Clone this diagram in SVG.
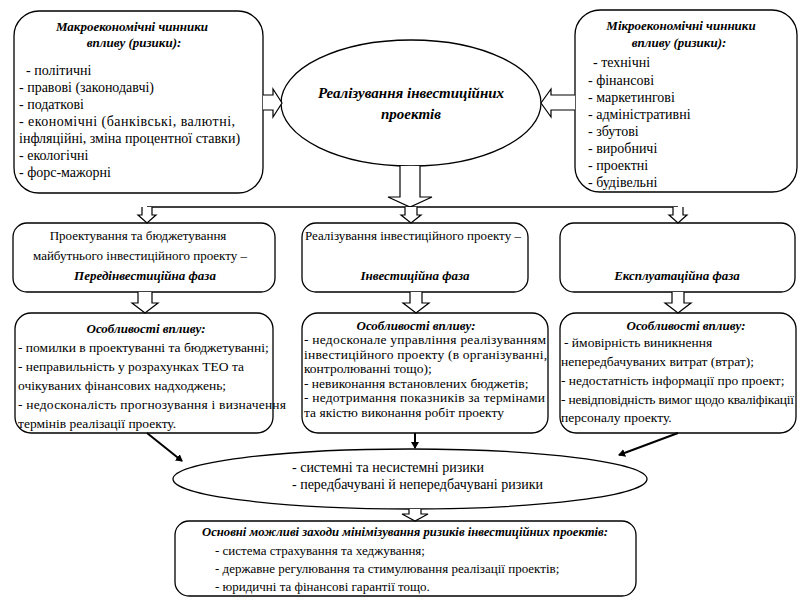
<svg xmlns="http://www.w3.org/2000/svg" width="800" height="600" viewBox="0 0 800 600" font-family="Liberation Serif, Times New Roman, serif">
<style>
  .box{fill:#fff;stroke:#000;stroke-width:1.3}
  .t{font-size:14px;fill:#000}
  .s{font-size:13px;fill:#000}
  .m{font-size:13.5px;fill:#000}
  .bi{font-size:13px;font-weight:bold;font-style:italic;fill:#000}
  .big{font-size:15px;font-weight:bold;font-style:italic;fill:#000}
  .hollow{fill:#fff;stroke:#000;stroke-width:1.2}
  .ln{fill:none;stroke:#000;stroke-width:1.3}
  .arr{fill:none;stroke:#000;stroke-width:2;marker-end:url(#ah)}
</style>
<defs>
  <marker id="ah" markerWidth="8" markerHeight="8" refX="6" refY="4" orient="auto" markerUnits="userSpaceOnUse">
    <path d="M0,0 L7,4 L0,8 Z" fill="#000"/>
  </marker>
</defs>
<rect width="800" height="600" fill="#fff"/>

<g id="macro">
  <rect class="box" x="14" y="11" width="249" height="182" rx="25"/>
  <text class="bi" x="132" y="31" text-anchor="middle">Макроекономічні чинники</text>
  <text class="bi" x="134" y="47" text-anchor="middle">впливу (ризики):</text>
  <text class="t" x="26" y="75">- політичні</text>
  <text class="t" x="19" y="92">- правові (законодавчі)</text>
  <text class="t" x="19" y="109">- податкові</text>
  <text class="t" x="19" y="126" textLength="216" lengthAdjust="spacing">- економічні (банківські, валютні,</text>
  <text class="t" x="19" y="143">інфляційні, зміна процентної ставки)</text>
  <text class="t" x="19" y="160">- екологічні</text>
  <text class="t" x="19" y="177">- форс-мажорні</text>
</g>

<g id="micro">
  <rect class="box" x="575" y="10" width="222" height="182" rx="25"/>
  <text class="bi" x="681" y="30" text-anchor="middle">Мікроекономічні чинники</text>
  <text class="bi" x="679" y="47" text-anchor="middle">впливу (ризики):</text>
  <text class="t" x="593" y="67">- технічні</text>
  <text class="t" x="588" y="85">- фінансові</text>
  <text class="t" x="588" y="102">- маркетингові</text>
  <text class="t" x="588" y="119">- адміністративні</text>
  <text class="t" x="588" y="136">- збутові</text>
  <text class="t" x="588" y="153">- виробничі</text>
  <text class="t" x="588" y="170">- проектні</text>
  <text class="t" x="588" y="187">- будівельні</text>
</g>

<g id="realization">
  <ellipse class="box" cx="411" cy="103" rx="130" ry="63"/>
  <text class="big" x="411" y="98" text-anchor="middle">Реалізування інвестиційних</text>
  <text class="big" x="411" y="119" text-anchor="middle">проектів</text>
</g>

<g id="phase1">
  <rect class="box" x="13" y="223" width="262" height="69" rx="14"/>
  <text class="s" x="138" y="240" text-anchor="middle">Проектування та бюджетування</text>
  <text class="s" x="140" y="260" text-anchor="middle">майбутнього інвестиційного проекту –</text>
  <text class="bi" x="145" y="280" text-anchor="middle">Передінвестиційна фаза</text>
</g>

<g id="phase2">
  <rect class="box" x="302" y="223" width="226" height="69" rx="14"/>
  <text class="s" x="305" y="240">Реалізування інвестиційного проекту –</text>
  <text class="bi" x="415" y="280" text-anchor="middle">Інвестиційна фаза</text>
</g>

<g id="phase3">
  <rect class="box" x="560" y="223" width="235" height="69" rx="14"/>
  <text class="bi" x="677" y="280" text-anchor="middle">Експлуатаційна фаза</text>
</g>

<g id="features1">
  <rect class="box" x="15" y="313" width="258" height="120" rx="16"/>
  <text class="bi" x="146" y="333" text-anchor="middle">Особливості впливу:</text>
  <text class="m" x="18" y="352">- помилки  в проектуванні та бюджетуванні;</text>
  <text class="m" x="18" y="371">- неправильність у розрахунках ТЕО та</text>
  <text class="m" x="18" y="390">очікуваних фінансових надходжень;</text>
  <text class="m" x="18" y="409" textLength="268" lengthAdjust="spacing">- недосконалість прогнозування і визначення</text>
  <text class="m" x="18" y="428">термінів реалізації проекту.</text>
</g>

<g id="features2">
  <rect class="box" x="302" y="313" width="246" height="120" rx="16"/>
  <text class="bi" x="416" y="330" text-anchor="middle">Особливості впливу:</text>
  <text class="m" x="304" y="344" textLength="242" lengthAdjust="spacing">- недосконале управління реалізуванням</text>
  <text class="m" x="304" y="359" textLength="243" lengthAdjust="spacing">інвестиційного проекту (в організуванні,</text>
  <text class="m" x="304" y="373">контролюванні тощо);</text>
  <text class="m" x="304" y="388">- невиконання встановлених бюджетів;</text>
  <text class="m" x="304" y="402" textLength="241" lengthAdjust="spacing">- недотримання показників за термінами</text>
  <text class="m" x="304" y="417">та якістю виконання робіт проекту</text>
</g>

<g id="features3">
  <rect class="box" x="560" y="313" width="236" height="120" rx="16"/>
  <text class="bi" x="686" y="330" text-anchor="middle">Особливості впливу:</text>
  <text class="m" x="564" y="347">- ймовірність виникнення</text>
  <text class="m" x="561" y="366">непередбачуваних витрат (втрат);</text>
  <text class="m" x="561" y="385">- недостатність інформації про проект;</text>
  <text class="m" x="561" y="404" textLength="233" lengthAdjust="spacing">- невідповідність вимог щодо кваліфікації</text>
  <text class="m" x="561" y="422">персоналу проекту.</text>
</g>

<g id="risks">
  <ellipse class="box" cx="410" cy="479" rx="237" ry="30"/>
  <text class="t" x="292" y="472">- системні та несистемні ризики</text>
  <text class="t" x="292" y="489">- передбачувані й непередбачувані ризики</text>
</g>

<g id="measures">
  <rect class="box" x="175" y="521" width="461" height="75" rx="14"/>
  <text class="bi" x="405" y="536" text-anchor="middle" style="font-size:12.7px">Основні можливі заходи мінімізування ризиків інвестиційних проектів:</text>
  <text class="s" x="215" y="555">- система страхування та хеджування;</text>
  <text class="s" x="215" y="573">- державне регулювання та стимулювання реалізації проектів;</text>
  <text class="s" x="215" y="591">- юридичні та фінансові гарантії тощо.</text>
</g>

<g id="connectors">
  <path class="hollow" d="M263,95 H273 V89 L282,103 L273,117 V110 H263"/>
  <path class="hollow" d="M575,95 H551 V89 L541,103 L551,117 V110 H575"/>
  <path class="hollow" d="M400,166 V197 H388 L410,207 L432,197 H420 V166"/>
  <path class="ln" d="M147,207 H678"/>
  <path class="hollow" d="M142,207 V215 H138 L147,223 L156,215 H152 V207"/>
  <path class="hollow" d="M405,207 V215 H401 L411,223 L421,215 H417 V207"/>
  <path class="hollow" d="M673,207 V215 H669 L678,223 L687,215 H683 V207"/>
  <path class="hollow" d="M138,292 V303 H132 L145,313 L158,303 H152 V292"/>
  <path class="hollow" d="M410,292 V303 H403 L416,313 L429,303 H422 V292"/>
  <path class="hollow" d="M672,292 V303 H665 L678,313 L691,303 H684 V292"/>
  <path class="arr" d="M147,433 L182,461"/>
  <path class="arr" d="M678,433 L619,455"/>
  <path class="arr" d="M415,433 L415,448"/>
  <path class="hollow" d="M409,509 V514 H402 L415,521 L428,514 H421 V509"/>
</g>
</svg>
